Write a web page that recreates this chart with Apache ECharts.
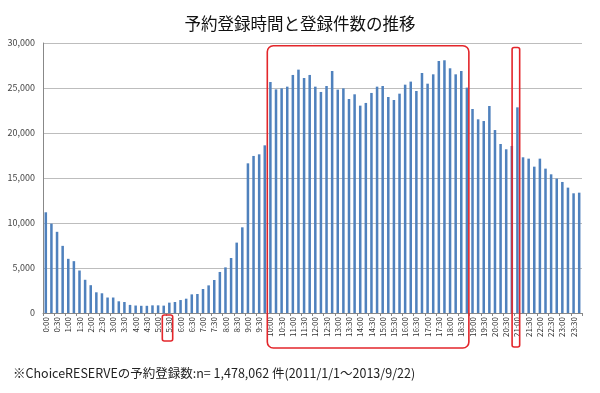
<!DOCTYPE html>
<html><head><meta charset="utf-8">
<script src="https://cdn.jsdelivr.net/npm/echarts@6/dist/echarts.min.js"></script>
<style>html,body{margin:0;padding:0;background:#fff}#c{width:600px;height:393px}</style>
</head><body><div id="c"></div>
<script>
const titleText = '予約登録時間と登録件数の推移';
const noteText = '※ChoiceRESERVEの予約登録数:n= 1,478,062 件(2011/1/1～2013/9/22)';
const categories = [
'0:00','0:15','0:30','0:45','1:00','1:15','1:30','1:45','2:00','2:15','2:30','2:45',
'3:00','3:15','3:30','3:45','4:00','4:15','4:30','4:45','5:00','5:15','5:30','5:45',
'6:00','6:15','6:30','6:45','7:00','7:15','7:30','7:45','8:00','8:15','8:30','8:45',
'9:00','9:15','9:30','9:45','10:00','10:15','10:30','10:45','11:00','11:15','11:30','11:45',
'12:00','12:15','12:30','12:45','13:00','13:15','13:30','13:45','14:00','14:15','14:30','14:45',
'15:00','15:15','15:30','15:45','16:00','16:15','16:30','16:45','17:00','17:15','17:30','17:45',
'18:00','18:15','18:30','18:45','19:00','19:15','19:30','19:45','20:00','20:15','20:30','20:45',
'21:00','21:15','21:30','21:45','22:00','22:15','22:30','22:45','23:00','23:15','23:30','23:45'
];
const counts = [
11190,9930,9020,7460,6020,5760,4720,3690,3090,2300,2190,1720,
1720,1300,1220,900,830,800,800,850,850,820,1150,1220,
1440,1590,2070,2110,2670,3070,3670,4560,5070,6110,7820,9520,
16630,17450,17630,18630,25670,24850,24960,25150,26450,27040,26110,26450,
25150,24560,25220,26890,24820,24960,23780,24300,23040,23340,24450,25150,
25220,24000,23670,24370,25370,25710,24670,26670,25480,26520,28000,28080,
27190,26520,26890,25040,22670,21520,21330,23000,20330,18780,18190,18560,
22850,17300,17150,16260,17150,16040,15410,14930,14560,13930,13300,13370
];
const yMin = 0, yMax = 30000, yStep = 5000;
const boxRange = ['10:00','18:45'];
const boxPeak = '21:00';
const boxLabel = '5:30';

const FONT = '"Noto Sans CJK JP", "Noto Sans", sans-serif';
const chart = echarts.init(document.getElementById('c'), null, {renderer:'canvas'});
const option = {
  animation: false,
  backgroundColor: '#fff',
  textStyle: {fontFamily: FONT},
  title: [
    {text: titleText, left: 'center', top: 10,
     textStyle: {fontFamily: FONT, fontSize: 16.5, fontWeight: 'normal', color: '#111'}},
    {text: noteText, left: 8, top: 362,
     textStyle: {fontFamily: FONT, fontSize: 12.5, fontWeight: 'normal', color: '#222'}}
  ],
  grid: {left: 43, right: 18, top: 43, bottom: 80, containLabel: false},
  xAxis: {
    type: 'category', data: categories, boundaryGap: true,
    axisLine: {show: true, lineStyle: {color: '#888', width: 1}},
    axisTick: {show: true, interval: 1, length: 3, lineStyle: {color: '#888'}},
    axisLabel: {interval: 1, rotate: 90, fontSize: 8, color: '#333', margin: 4, fontFamily: FONT}
  },
  yAxis: {
    type: 'value', min: yMin, max: yMax, interval: yStep,
    axisLine: {show: true, lineStyle: {color: '#888'}},
    axisTick: {show: false},
    axisLabel: {fontSize: 9, color: '#444', margin: 8, fontFamily: FONT,
      formatter: v => v.toLocaleString('en-US')},
    splitLine: {show: true, lineStyle: {color: '#bdbdbd', width: 1}}
  },
  series: [{
    type: 'bar', data: counts, barWidth: '45%',
    itemStyle: {color: '#4F81BD'}
  }]
};
chart.setOption(option);

function px(cat, val) { return chart.convertToPixel({xAxisIndex: 0, yAxisIndex: 0}, [cat, val]); }
const i0 = categories.indexOf(boxRange[0]);
const band = px(categories[i0 + 1], 0)[0] - px(categories[i0], 0)[0];
const zeroY = px(categories[0], 0)[1];
const a = px(boxRange[0], 29700), b = px(boxRange[1], 29700);
const p = px(boxPeak, 29500);
const l = px(boxLabel, 0);
const red = '#e3262b';
chart.setOption({
  graphic: [
    {type: 'rect', shape: {x: a[0] - band * 0.55, y: a[1], width: b[0] - a[0] + band * 0.9, height: zeroY + 35 - a[1], r: 6},
     style: {fill: 'none', stroke: red, lineWidth: 1.6}, z: 100},
    {type: 'rect', shape: {x: p[0] - band * 0.95, y: p[1], width: band * 1.35, height: zeroY + 34 - p[1], r: 2},
     style: {fill: 'none', stroke: red, lineWidth: 1.6}, z: 100},
    {type: 'rect', shape: {x: l[0] - band * 1.25, y: zeroY + 2, width: band * 1.85, height: 26, r: 2},
     style: {fill: 'none', stroke: red, lineWidth: 1.6}, z: 100}
  ]
});
</script></body></html>
